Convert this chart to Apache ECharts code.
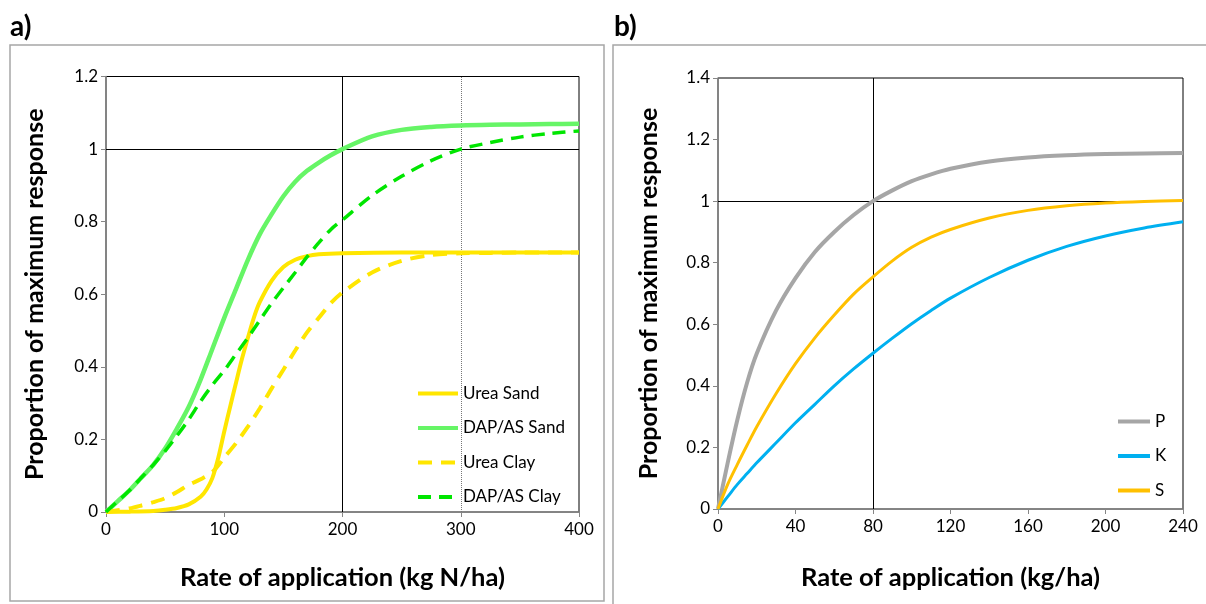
<!DOCTYPE html>
<html>
<head>
<meta charset="utf-8">
<script src="https://cdn.jsdelivr.net/npm/echarts@6/dist/echarts.min.js"></script>
<style>
  html, body { margin: 0; padding: 0; background: #fff; }
  #chart { width: 1206px; height: 604px; }
</style>
</head>
<body>
<div id="chart"></div>
<script>
// panel a) - nitrogen rate (kg N/ha)
const xA = [0, 10, 20, 30, 40, 50, 60, 70, 80, 90, 100, 110, 120, 130, 140, 150, 160, 170, 180, 190, 200, 225, 250, 275, 300, 325, 350, 375, 400];
const dapSand = [0, 0.03, 0.06, 0.095, 0.13, 0.175, 0.23, 0.29, 0.365, 0.45, 0.535, 0.615, 0.695, 0.765, 0.82, 0.87, 0.91, 0.94, 0.963, 0.983, 1.0, 1.035, 1.053, 1.061, 1.065, 1.067, 1.068, 1.069, 1.07];
const ureaClay = [0, 0.005, 0.01, 0.018, 0.027, 0.038, 0.055, 0.075, 0.09, 0.11, 0.15, 0.19, 0.235, 0.285, 0.34, 0.392, 0.445, 0.495, 0.535, 0.575, 0.605, 0.66, 0.692, 0.708, 0.713, 0.714, 0.715, 0.715, 0.715];
const dapClay = [0, 0.03, 0.06, 0.095, 0.13, 0.168, 0.21, 0.255, 0.305, 0.35, 0.39, 0.435, 0.48, 0.528, 0.575, 0.618, 0.66, 0.703, 0.742, 0.778, 0.805, 0.872, 0.925, 0.968, 1.0, 1.018, 1.033, 1.043, 1.05];
// urea on sand bends sharply, so it is read at a finer step
const xUreaSand = [0, 20, 40, 50, 60, 70, 80, 85, 90, 95, 100, 105, 110, 115, 120, 125, 130, 140, 150, 160, 170, 180, 200, 250, 300, 350, 400];
const ureaSand = [0, 0.001, 0.003, 0.006, 0.011, 0.021, 0.042, 0.062, 0.094, 0.15, 0.222, 0.29, 0.357, 0.422, 0.48, 0.535, 0.578, 0.637, 0.675, 0.695, 0.705, 0.71, 0.713, 0.715, 0.715, 0.715, 0.715];

// panel b) - P, K, S rate (kg/ha)
const xB = [0, 5, 10, 15, 20, 30, 40, 50, 60, 70, 80, 90, 100, 110, 120, 140, 160, 180, 200, 220, 240];
const pResp = [0, 0.15, 0.29, 0.41, 0.505, 0.645, 0.75, 0.835, 0.9, 0.955, 1.0, 1.035, 1.065, 1.087, 1.105, 1.129, 1.142, 1.149, 1.153, 1.155, 1.156];
const kResp = [0, 0.04, 0.08, 0.115, 0.15, 0.215, 0.28, 0.34, 0.4, 0.455, 0.506, 0.555, 0.602, 0.645, 0.685, 0.752, 0.808, 0.853, 0.887, 0.913, 0.933];
const sResp = [0, 0.08, 0.145, 0.207, 0.267, 0.375, 0.472, 0.556, 0.63, 0.698, 0.754, 0.806, 0.85, 0.883, 0.908, 0.945, 0.97, 0.985, 0.994, 0.999, 1.002];

const FONT = "Lato";

function pairs(xs, ys) {
  return xs.map((x, i) => [x, ys[i]]);
}

function xAxisOpt(gridIndex, max, interval, name, gap) {
  return {
    gridIndex: gridIndex, type: "value", min: 0, max: max, interval: interval,
    name: name, nameLocation: "middle", nameGap: gap,
    nameTextStyle: { fontFamily: FONT, fontSize: 25.5, fontWeight: "bold", color: "#000" },
    axisLine: { show: true, lineStyle: { color: "#868686", width: 1.5 } },
    axisTick: { show: true, length: 5, lineStyle: { color: "#868686" } },
    axisLabel: { fontFamily: FONT, fontSize: 17, color: "#000", margin: 9 },
    splitLine: { show: false },
  };
}

function yAxisOpt(gridIndex, max, name, gap) {
  return {
    gridIndex: gridIndex, type: "value", min: 0, max: max, interval: 0.2,
    name: name, nameLocation: "middle", nameGap: gap,
    nameTextStyle: { fontFamily: FONT, fontSize: 25, fontWeight: "bold", color: "#000" },
    axisLine: { show: true, lineStyle: { color: "#868686", width: 1.5 } },
    axisTick: { show: true, length: 5, lineStyle: { color: "#868686" } },
    axisLabel: { fontFamily: FONT, fontSize: 17, color: "#000", margin: 8 },
    splitLine: { show: false },
  };
}

function curve(name, idx, data, color, width, dash) {
  return {
    name: name, type: "line", xAxisIndex: idx, yAxisIndex: idx,
    data: data, showSymbol: false, symbol: "none",
    smooth: 0.3,
    lineStyle: { color: color, width: width, type: dash || "solid", cap: "butt" },
    itemStyle: { color: color },
    z: 3,
  };
}

function refLines(idx, lines) {
  return {
    type: "line", xAxisIndex: idx, yAxisIndex: idx, data: [], silent: true,
    markLine: { silent: true, symbol: "none", label: { show: false }, z: 1, animation: false, data: lines },
  };
}

const chart = echarts.init(document.getElementById("chart"));

chart.setOption({
  animation: false,
  backgroundColor: "#fff",
  grid: [
    { left: 106, top: 76.5, width: 473, height: 435.5, show: true, borderColor: "#000", borderWidth: 1, backgroundColor: "transparent" },
    { left: 718, top: 78, width: 465, height: 431, show: true, borderColor: "#000", borderWidth: 1, backgroundColor: "transparent" },
  ],
  xAxis: [
    xAxisOpt(0, 400, 100, "Rate of application (kg N/ha)", 53),
    xAxisOpt(1, 240, 40, "Rate of application (kg/ha)", 56),
  ],
  yAxis: [
    yAxisOpt(0, 1.2, "Proportion of maximum response", 59),
    yAxisOpt(1, 1.4, "Proportion of maximum response", 57),
  ],
  legend: [
    {
      data: ["Urea Sand", "DAP/AS Sand", "Urea Clay", "DAP/AS Clay"],
      orient: "vertical", left: 416, top: 385, padding: 0, itemWidth: 40, itemHeight: 14, itemGap: 17.5,
      itemStyle: { opacity: 0 },
      lineStyle: { width: 4 },
      textStyle: { fontFamily: FONT, fontSize: 17, color: "#000" },
    },
    {
      data: ["P", "K", "S"],
      orient: "vertical", left: 1116, top: 413, padding: 0, itemWidth: 32, itemHeight: 14, itemGap: 17.5,
      itemStyle: { opacity: 0 },
      lineStyle: { width: 4 },
      textStyle: { fontFamily: FONT, fontSize: 17, color: "#000" },
    },
  ],
  graphic: [
    { type: "rect", shape: { x: 10, y: 45, width: 594, height: 556 }, style: { fill: "none", stroke: "#a6a6a6", lineWidth: 1.5 }, silent: true },
    { type: "rect", shape: { x: 613, y: 45, width: 600, height: 565 }, style: { fill: "none", stroke: "#a6a6a6", lineWidth: 1.5 }, silent: true },
    { type: "text", left: 10, top: 13, style: { text: "a)", font: "bold 28px " + FONT, fill: "#000" } },
    { type: "text", left: 614, top: 13, style: { text: "b)", font: "bold 28px " + FONT, fill: "#000" } },
  ],
  series: [
    refLines(0, [
      { xAxis: 200, lineStyle: { color: "#000", width: 1, type: "solid" } },
      { xAxis: 300, lineStyle: { color: "#777", width: 1, type: "dotted" } },
      { yAxis: 1, lineStyle: { color: "#000", width: 1, type: "solid" } },
    ]),
    curve("Urea Sand", 0, pairs(xUreaSand, ureaSand), "#ffe600", 4),
    curve("DAP/AS Sand", 0, pairs(xA, dapSand), "#66f566", 4.5),
    curve("Urea Clay", 0, pairs(xA, ureaClay), "#ffe600", 4, [14, 9]),
    curve("DAP/AS Clay", 0, pairs(xA, dapClay), "#00e600", 3.5, [13, 8]),
    refLines(1, [
      { xAxis: 80, lineStyle: { color: "#000", width: 1, type: "solid" } },
      { yAxis: 1, lineStyle: { color: "#000", width: 1, type: "solid" } },
    ]),
    curve("P", 1, pairs(xB, pResp), "#a6a6a6", 4),
    curve("K", 1, pairs(xB, kResp), "#00b0f0", 3),
    curve("S", 1, pairs(xB, sResp), "#ffc000", 3),
  ],
});
</script>
</body>
</html>
